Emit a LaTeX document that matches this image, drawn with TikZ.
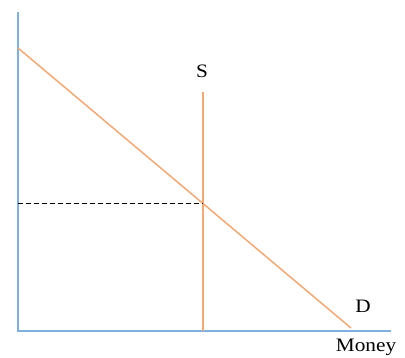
\documentclass[tikz,border=0pt]{standalone}
\usepackage{fontspec}
\setmainfont{Liberation Serif}
\usetikzlibrary{positioning}
\definecolor{axisblue}{HTML}{7FB0E2}
\definecolor{curveorange}{HTML}{F4A874}

\begin{document}
\begin{tikzpicture}[x=1pt,y=-1pt,
  axisline/.style={axisblue, line width=1.9pt},
  curveline/.style={curveorange, line width=1.5pt},
  lab/.style={font=\fontsize{19}{21}\selectfont, xscale=1.12, inner sep=0pt}]
  \useasboundingbox (0,0) rectangle (405,358);
  % axes
  \coordinate (origin) at (18,331);
  \coordinate (ytop) at (18,12);
  \coordinate (xend) at (391,331);
  \draw[axisline] (ytop) -- (origin) -- (xend);
  % demand and supply
  \coordinate (dtop) at (18,48);
  \coordinate (dbot) at (351,328);
  \coordinate (stop) at (203,92);
  \coordinate (sbot) at (203,331);
  \draw[curveline] (dtop) -- (dbot);
  \draw[curveline] (stop) -- (sbot);
  % equilibrium
  \coordinate (eq) at (203,203);
  \coordinate (pax) at (18,203);
  \draw[black, line width=0.8pt, dash pattern=on 5pt off 3pt] (pax) -- (eq);
  % labels
  \node[lab] (slab) at (202,71) {S};
  \node[lab] (dlab) at (363,306) {D};
  \node[lab] (mlab) at (366,347) {Money};
\end{tikzpicture}
\end{document}
